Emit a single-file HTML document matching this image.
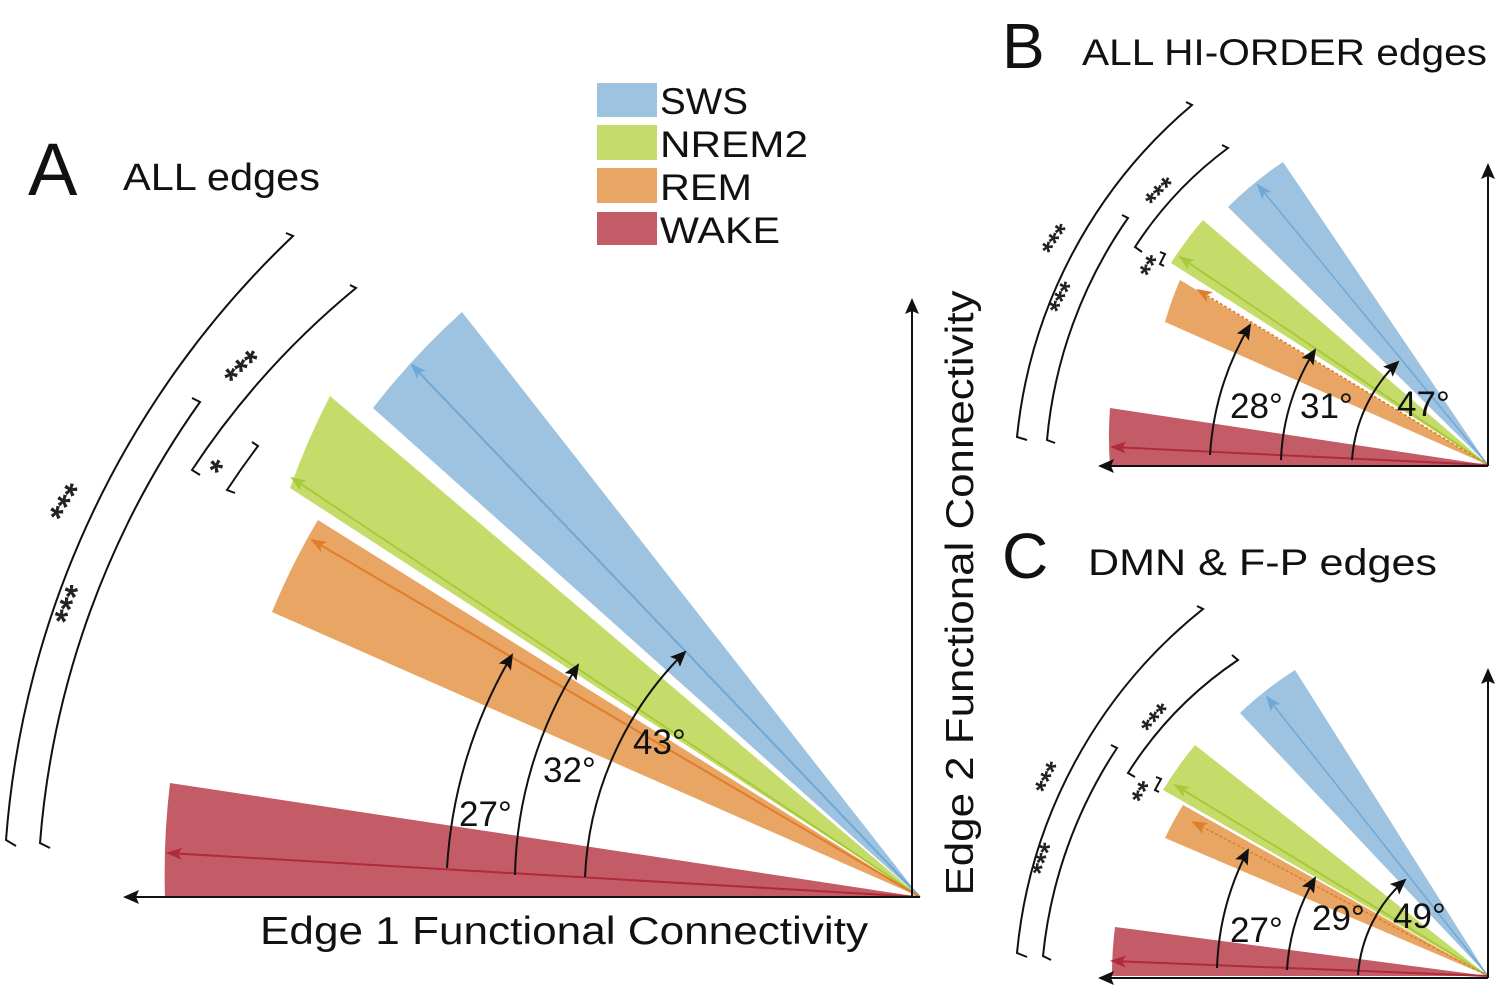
<!DOCTYPE html>
<html><head><meta charset="utf-8"><style>
html,body{margin:0;padding:0;background:#fff;}
svg{display:block;font-family:"Liberation Sans",sans-serif;}
</style></head><body>
<svg width="1505" height="1000" viewBox="0 0 1505 1000" xmlns="http://www.w3.org/2000/svg">
<defs>
<marker id="ahb" markerWidth="16" markerHeight="14" refX="14" refY="7" orient="auto" markerUnits="userSpaceOnUse" viewBox="0 0 16 14"><path d="M0,0 L16,7 L0,14 L3,7 Z" fill="#111"/></marker>
<marker id="ab" markerWidth="16" markerHeight="12" refX="14" refY="6" orient="auto" markerUnits="userSpaceOnUse" viewBox="0 0 16 12"><path d="M0,0 L16,6 L0,12 L4,6 Z" fill="#6fa8d6"/></marker>
<marker id="ag" markerWidth="16" markerHeight="12" refX="14" refY="6" orient="auto" markerUnits="userSpaceOnUse" viewBox="0 0 16 12"><path d="M0,0 L16,6 L0,12 L4,6 Z" fill="#a8c93a"/></marker>
<marker id="ao" markerWidth="16" markerHeight="12" refX="14" refY="6" orient="auto" markerUnits="userSpaceOnUse" viewBox="0 0 16 12"><path d="M0,0 L16,6 L0,12 L4,6 Z" fill="#e07d2a"/></marker>
<marker id="ar" markerWidth="16" markerHeight="12" refX="14" refY="6" orient="auto" markerUnits="userSpaceOnUse" viewBox="0 0 16 12"><path d="M0,0 L16,6 L0,12 L4,6 Z" fill="#b02a3a"/></marker>
</defs>

<!-- Legend -->
<rect x="597" y="83" width="60" height="34" fill="#9dc3e0"/>
<rect x="597" y="125" width="60" height="35" fill="#c6dc6a"/>
<rect x="597" y="168" width="60" height="35" fill="#e8a564"/>
<rect x="597" y="212" width="60" height="33" fill="#c35c66"/>
<g font-size="37" fill="#111">
<text x="660" y="114" textLength="88" lengthAdjust="spacingAndGlyphs">SWS</text>
<text x="660" y="157" textLength="148" lengthAdjust="spacingAndGlyphs">NREM2</text>
<text x="660" y="200" textLength="92" lengthAdjust="spacingAndGlyphs">REM</text>
<text x="660" y="243" textLength="120" lengthAdjust="spacingAndGlyphs">WAKE</text>
</g>

<!-- Panel A -->
<text x="28" y="195" font-size="74" fill="#111">A</text>
<text x="123" y="190" font-size="38" fill="#111" textLength="197" lengthAdjust="spacingAndGlyphs">ALL edges</text>

<path d="M920,897 L373,408 A730,730 0 0 1 462,312 Z" fill="#9dc3e0"/>
<path d="M920,897 L290,488 A760,760 0 0 1 330,396 Z" fill="#c6dc6a"/>
<path d="M920,897 L272,612 A700,700 0 0 1 318,520 Z" fill="#e8a564"/>
<path d="M920,897 L165,897 A755,755 0 0 1 170,783 Z" fill="#c35c66"/>
<line x1="920" y1="897" x2="412" y2="365" stroke="#6fa8d6" stroke-width="2" marker-end="url(#ab)"/>
<line x1="920" y1="897" x2="292" y2="478" stroke="#a8c93a" stroke-width="2" marker-end="url(#ag)"/>
<line x1="920" y1="897" x2="312" y2="540" stroke="#e07d2a" stroke-width="2" marker-end="url(#ao)"/>
<line x1="920" y1="897" x2="168" y2="853" stroke="#b02a3a" stroke-width="2" marker-end="url(#ar)"/>

<line x1="920" y1="897" x2="125" y2="897" stroke="#111" stroke-width="2" marker-end="url(#ahb)"/>
<line x1="912" y1="897" x2="912" y2="300" stroke="#111" stroke-width="2" marker-end="url(#ahb)"/>

<g fill="none" stroke="#111" stroke-width="2">
<path d="M447,868 A474,474 0 0 1 512,655" marker-end="url(#ahb)"/>
<path d="M515,875 A408,408 0 0 1 578,665" marker-end="url(#ahb)"/>
<path d="M585,877 A337,337 0 0 1 685,652" marker-end="url(#ahb)"/>
</g>
<g font-size="35" fill="#111">
<text x="459" y="826">27°</text>
<text x="543" y="782">32°</text>
<text x="633" y="754">43°</text>
</g>

<g fill="none" stroke="#111" stroke-width="2">
<path d="M286,233 L293,236 A930,930 0 0 0 6,840 L16,846"/>
<path d="M192,398 L200,402 A880,880 0 0 0 40,843 L50,848"/>
<path d="M350,285 L356,288 A820,820 0 0 0 192,470 L200,475"/>
<path d="M252,442 L258,446 A820,820 0 0 0 227,490 L235,493"/>
</g>
<g font-size="34" font-weight="bold" fill="#222">
<text transform="translate(78,510) rotate(-58)" text-anchor="middle">***</text>
<text transform="translate(82,610) rotate(-68)" text-anchor="middle">***</text>
<text transform="translate(252,378) rotate(-42)" text-anchor="middle">***</text>
<text transform="translate(228,478) rotate(-45)" text-anchor="middle">*</text>
</g>

<text x="260" y="944" font-size="39" fill="#111" textLength="608" lengthAdjust="spacingAndGlyphs">Edge 1 Functional Connectivity</text>
<text transform="translate(973,593) rotate(-90)" font-size="39" fill="#111" text-anchor="middle" textLength="605" lengthAdjust="spacingAndGlyphs">Edge 2 Functional Connectivity</text>

<!-- Panel B -->
<text x="1002" y="68" font-size="64" fill="#111">B</text>
<text x="1082" y="65" font-size="37" fill="#111" textLength="405" lengthAdjust="spacingAndGlyphs">ALL HI-ORDER edges</text>
<path d="M1488,465 L1228,207 A360,360 0 0 1 1283,162 Z" fill="#9dc3e0"/>
<path d="M1488,465 L1171,263 A370,370 0 0 1 1203,220 Z" fill="#c6dc6a"/>
<path d="M1488,465 L1165,322 A350,350 0 0 1 1180,280 Z" fill="#e8a564"/>
<path d="M1488,465 L1110,465 A378,378 0 0 1 1110,408 Z" fill="#c35c66"/>
<line x1="1488" y1="465" x2="1258" y2="185" stroke="#6fa8d6" stroke-width="1.5" marker-end="url(#ab)"/>
<line x1="1488" y1="465" x2="1180" y2="257" stroke="#a8c93a" stroke-width="2" marker-end="url(#ag)"/>
<line x1="1488" y1="465" x2="1198" y2="290" stroke="#e07d2a" stroke-width="1.5" stroke-dasharray="3,2" marker-end="url(#ao)"/>
<line x1="1488" y1="465" x2="1112" y2="447" stroke="#b02a3a" stroke-width="2" marker-end="url(#ar)"/>
<line x1="1488" y1="466" x2="1100" y2="466" stroke="#111" stroke-width="2" marker-end="url(#ahb)"/>
<line x1="1488" y1="466" x2="1488" y2="165" stroke="#111" stroke-width="2" marker-end="url(#ahb)"/>
<g fill="none" stroke="#111" stroke-width="2">
<path d="M1210,455 A290,290 0 0 1 1250,325" marker-end="url(#ahb)"/>
<path d="M1281,460 A220,220 0 0 1 1315,350" marker-end="url(#ahb)"/>
<path d="M1352,460 A150,150 0 0 1 1398,362" marker-end="url(#ahb)"/>
<path d="M1186,102 L1192,105 A500,500 0 0 0 1017,437 L1027,440"/>
<path d="M1122,215 L1128,218 A460,460 0 0 0 1047,440 L1055,443"/>
<path d="M1222,145 L1228,148 A380,380 0 0 0 1135,247 L1142,252"/>
<path d="M1160,252 L1165,254 A380,380 0 0 0 1160,264 L1164,266"/>
</g>
<g font-size="35" fill="#111">
<text x="1230" y="418">28°</text>
<text x="1300" y="418">31°</text>
<text x="1397" y="416">47°</text>
</g>
<g font-size="28" font-weight="bold" fill="#222">
<text transform="translate(1065,246) rotate(-55)" text-anchor="middle">***</text>
<text transform="translate(1072,303) rotate(-62)" text-anchor="middle">***</text>
<text transform="translate(1168,200) rotate(-45)" text-anchor="middle">***</text>
<text transform="translate(1160,272) rotate(-60)" text-anchor="middle">**</text>
</g>

<!-- Panel C -->
<text x="1002" y="578" font-size="64" fill="#111">C</text>
<text x="1088" y="575" font-size="37" fill="#111" textLength="349" lengthAdjust="spacingAndGlyphs">DMN &amp; F-P edges</text>
<path d="M1488,976 L1240,713 A360,360 0 0 1 1295,670 Z" fill="#9dc3e0"/>
<path d="M1488,976 L1163,790 A375,375 0 0 1 1195,745 Z" fill="#c6dc6a"/>
<path d="M1488,976 L1165,838 A350,350 0 0 1 1183,805 Z" fill="#e8a564"/>
<path d="M1488,976 L1112,976 A376,376 0 0 1 1115,927 Z" fill="#c35c66"/>
<line x1="1488" y1="976" x2="1267" y2="697" stroke="#6fa8d6" stroke-width="1.5" marker-end="url(#ab)"/>
<line x1="1488" y1="976" x2="1175" y2="785" stroke="#a8c93a" stroke-width="2" marker-end="url(#ag)"/>
<line x1="1488" y1="976" x2="1193" y2="822" stroke="#e07d2a" stroke-width="1.5" stroke-dasharray="3,2" marker-end="url(#ao)"/>
<line x1="1488" y1="976" x2="1112" y2="961" stroke="#b02a3a" stroke-width="2" marker-end="url(#ar)"/>
<line x1="1488" y1="978" x2="1100" y2="978" stroke="#111" stroke-width="2" marker-end="url(#ahb)"/>
<line x1="1488" y1="978" x2="1488" y2="670" stroke="#111" stroke-width="2" marker-end="url(#ahb)"/>
<g fill="none" stroke="#111" stroke-width="2">
<path d="M1217,968 A275,275 0 0 1 1248,850" marker-end="url(#ahb)"/>
<path d="M1287,970 A205,205 0 0 1 1315,878" marker-end="url(#ahb)"/>
<path d="M1358,975 A140,140 0 0 1 1405,880" marker-end="url(#ahb)"/>
<path d="M1197,606 L1203,609 A500,500 0 0 0 1017,953 L1027,957"/>
<path d="M1111,745 L1117,748 A460,460 0 0 0 1043,956 L1051,960"/>
<path d="M1232,655 L1238,660 A380,380 0 0 0 1128,773 L1135,777"/>
<path d="M1156,777 L1161,779 A380,380 0 0 0 1155,790 L1159,792"/>
</g>
<g font-size="35" fill="#111">
<text x="1230" y="942">27°</text>
<text x="1312" y="930">29°</text>
<text x="1393" y="928">49°</text>
</g>
<g font-size="28" font-weight="bold" fill="#222">
<text transform="translate(1058,783) rotate(-62)" text-anchor="middle">***</text>
<text transform="translate(1054,863) rotate(-70)" text-anchor="middle">***</text>
<text transform="translate(1164,726) rotate(-48)" text-anchor="middle">***</text>
<text transform="translate(1152,798) rotate(-60)" text-anchor="middle">**</text>
</g>
</svg>
</body></html>
